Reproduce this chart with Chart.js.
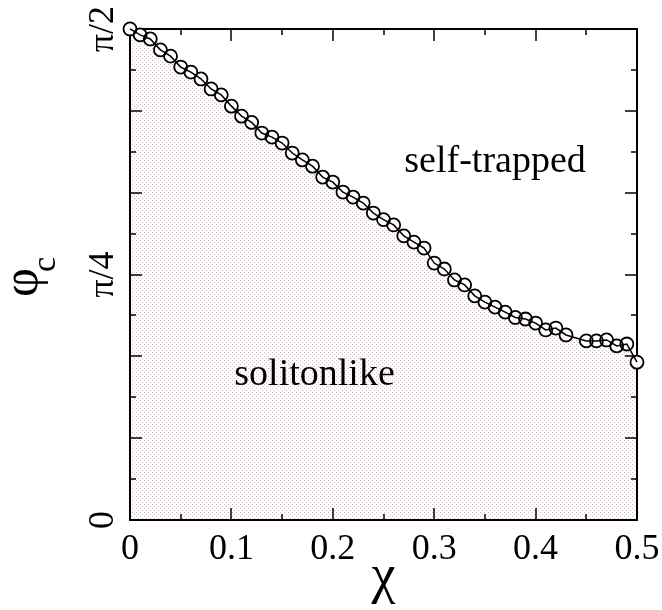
<!DOCTYPE html>
<html>
<head>
<meta charset="utf-8">
<script src="https://cdn.jsdelivr.net/npm/chart.js@4.4.1/dist/chart.umd.min.js"></script>
<style>
  html, body { margin: 0; padding: 0; background: #fff; }
</style>
</head>
<body>
<canvas id="chart" width="662" height="610"></canvas>
<script>
// critical phase vs. nonlinearity (chi = 0.44 was not computed)
const chiValues = [
  0, 0.01, 0.02, 0.03, 0.04, 0.05, 0.06, 0.07, 0.08, 0.09,
  0.10, 0.11, 0.12, 0.13, 0.14, 0.15, 0.16, 0.17, 0.18, 0.19,
  0.20, 0.21, 0.22, 0.23, 0.24, 0.25, 0.26, 0.27, 0.28, 0.29,
  0.30, 0.31, 0.32, 0.33, 0.34, 0.35, 0.36, 0.37, 0.38, 0.39,
  0.40, 0.41, 0.42, 0.43, 0.45, 0.46, 0.47, 0.48, 0.49, 0.50
];
const phiCritical = [
  1.571, 1.552, 1.539, 1.504, 1.484, 1.449, 1.433, 1.411, 1.379, 1.360,
  1.324, 1.292, 1.272, 1.238, 1.225, 1.206, 1.174, 1.152, 1.132, 1.097,
  1.081, 1.049, 1.033, 1.014, 0.982, 0.961, 0.944, 0.909, 0.889, 0.870,
  0.822, 0.803, 0.768, 0.752, 0.717, 0.697, 0.681, 0.665, 0.648, 0.643,
  0.630, 0.608, 0.614, 0.592, 0.573, 0.573, 0.576, 0.557, 0.563, 0.505
];

const xTickValues = [0, 0.05, 0.1, 0.15, 0.2, 0.25, 0.3, 0.35, 0.4, 0.45, 0.5];
const xTickLabels = ['0', '', '0.1', '', '0.2', '', '0.3', '', '0.4', '', '0.5'];
const yTickValues = [
  0, Math.PI / 24, Math.PI / 12, Math.PI / 8, Math.PI / 6, 5 * Math.PI / 24,
  Math.PI / 4, 7 * Math.PI / 24, Math.PI / 3, 3 * Math.PI / 8, 5 * Math.PI / 12,
  11 * Math.PI / 24, Math.PI / 2
];
const yTickLabels = ['0', '', '', '', '', '', 'π/4', '', '', '', '', '', 'π/2'];

const SERIF = '"Liberation Serif", "Times New Roman", serif';

// dotted fill under the curve
const tile = document.createElement('canvas');
tile.width = 4;
tile.height = 4;
const tctx = tile.getContext('2d');
tctx.fillStyle = 'rgb(228,178,186)';
tctx.fillRect(0, 0, 1, 1);
tctx.fillRect(2, 2, 1, 1);
const dotPattern = tctx.createPattern(tile, 'repeat');

const points = chiValues.map((x, i) => ({ x: x, y: phiCritical[i] }));

// box around the plot with inward ticks on all four sides
const frame = {
  id: 'frame',
  beforeDatasetsDraw(chart) {
    const { ctx, chartArea: a, scales } = chart;
    ctx.save();
    ctx.strokeStyle = '#000';
    ctx.lineWidth = 2;
    ctx.strokeRect(a.left, a.top, a.right - a.left, a.bottom - a.top);
    ctx.lineWidth = 1.5;
    ctx.beginPath();
    xTickValues.forEach((v, i) => {
      const px = Math.round(scales.x.getPixelForValue(v));
      const len = i % 2 === 0 ? 12 : 6;
      ctx.moveTo(px, a.bottom); ctx.lineTo(px, a.bottom - len);
      ctx.moveTo(px, a.top); ctx.lineTo(px, a.top + len);
    });
    yTickValues.forEach((v, i) => {
      const py = Math.round(scales.y.getPixelForValue(v));
      const len = i % 2 === 0 ? 12 : 6;
      ctx.moveTo(a.left, py); ctx.lineTo(a.left + len, py);
      ctx.moveTo(a.right, py); ctx.lineTo(a.right - len, py);
    });
    ctx.stroke();
    ctx.restore();
  }
};

// rotated y tick labels, region names and the phi_c axis title
const labels = {
  id: 'labels',
  afterDraw(chart) {
    const { ctx, chartArea: a, scales } = chart;
    ctx.save();
    ctx.fillStyle = '#000';
    ctx.font = '36px ' + SERIF;
    ctx.textAlign = 'center';
    ctx.textBaseline = 'middle';
    yTickValues.forEach((v, i) => {
      if (!yTickLabels[i]) return;
      ctx.save();
      ctx.translate(a.left - 26, scales.y.getPixelForValue(v));
      ctx.rotate(-Math.PI / 2);
      ctx.fillText(yTickLabels[i], 0, 0);
      ctx.restore();
    });

    ctx.font = '38px ' + SERIF;
    ctx.fillText('self-trapped', scales.x.getPixelForValue(0.36), scales.y.getPixelForValue(1.145));
    ctx.fillText('solitonlike', scales.x.getPixelForValue(0.182), scales.y.getPixelForValue(0.464));

    ctx.translate(37, 297);
    ctx.rotate(-Math.PI / 2);
    ctx.textAlign = 'left';
    ctx.textBaseline = 'alphabetic';
    ctx.font = '50px ' + SERIF;
    ctx.fillText('φ', 0, 0);
    ctx.font = '34px ' + SERIF;
    ctx.fillText('c', 25, 18);
    ctx.restore();
  }
};

new Chart(document.getElementById('chart'), {
  type: 'line',
  data: {
    datasets: [{
      data: points,
      borderColor: '#000',
      borderWidth: 1.5,
      backgroundColor: dotPattern,
      fill: 'origin',
      tension: 0,
      pointRadius: 6.5,
      pointBorderWidth: 1.8,
      pointBorderColor: '#000',
      pointBackgroundColor: 'rgba(0,0,0,0)',
      clip: false
    }, {
      data: points,
      showLine: false,
      pointRadius: 6.5,
      pointBorderWidth: 0,
      pointBackgroundColor: '#fff',
      clip: false
    }]
  },
  options: {
    responsive: false,
    animation: false,
    layout: { padding: { top: 29, right: 25, left: 0, bottom: 0 } },
    plugins: {
      legend: { display: false },
      tooltip: { enabled: false },
      filler: { drawTime: 'beforeDatasetsDraw' }
    },
    scales: {
      x: {
        type: 'linear',
        min: 0,
        max: 0.5,
        afterBuildTicks: s => { s.ticks = xTickValues.map(v => ({ value: v })); },
        afterFit: s => { s.height = 90; s.paddingLeft = 0; s.paddingRight = 0; },
        grid: { display: false, drawTicks: false },
        border: { display: false },
        ticks: {
          autoSkip: false,
          maxRotation: 0,
          padding: 8,
          color: '#000',
          font: { family: SERIF, size: 36 },
          callback: (v, i) => xTickLabels[i]
        },
        title: {
          display: true,
          text: 'χ',
          color: '#000',
          font: { family: SERIF, size: 54 },
          padding: 0
        }
      },
      y: {
        type: 'linear',
        min: 0,
        max: Math.PI / 2,
        afterBuildTicks: s => { s.ticks = yTickValues.map(v => ({ value: v })); },
        afterFit: s => { s.width = 130; s.paddingTop = 0; s.paddingBottom = 0; },
        grid: { display: false, drawTicks: false },
        border: { display: false },
        ticks: { display: false }
      }
    }
  },
  plugins: [frame, labels]
});
</script>
</body>
</html>
